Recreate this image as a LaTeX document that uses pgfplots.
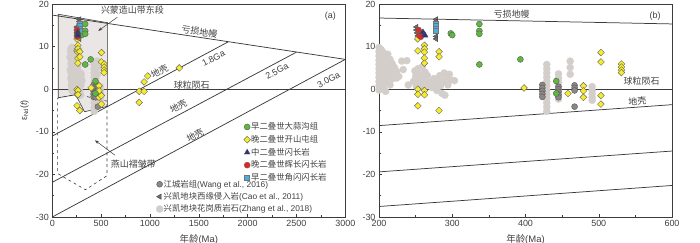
\documentclass[border=0pt]{standalone}
\usepackage{pgfplots}
\pgfplotsset{compat=1.18}
\usepackage{pgfplotstable}
\usepackage{fontspec}
\setmainfont{Liberation Sans}
\newfontfamily\cjk{Noto Sans CJK SC}
\usetikzlibrary{arrows.meta}

\definecolor{cgreen}{HTML}{5DB83F}
\definecolor{cyellow}{HTML}{F7EC2A}
\definecolor{cnavy}{HTML}{2B2F8C}
\definecolor{cred}{HTML}{E52421}
\definecolor{cblue}{HTML}{44B0E3}
\definecolor{cwang}{HTML}{8C8684}
\definecolor{ccao}{HTML}{6E6E6E}
\definecolor{czhang}{HTML}{D4CECB}
\definecolor{cpoly}{HTML}{EAE6E5}
\definecolor{cline}{HTML}{3C3C3C}
\definecolor{ctext}{HTML}{404040}

\pgfplotstableread{
x y
298 13.1
300 12.7
337 15.3
337 13.7
337 13.0
337 5.8
393 7.0
442 1.9
442 -1.0
}\tgreen

\pgfplotstableread{
x y
253 11.8
253 9.0
253 0.0
253 -1.2
253 -3.9
262 10.3
262 9.5
262 8.7
262 7.3
262 6.1
262 -0.3
262 -1.3
282 8.8
282 7.6
282 -5.0
398 0.3
458 -1.0
479 0.8
479 -0.4
479 -1.9
503 8.6
503 6.4
503 -1.5
503 -3.5
531 5.9
531 5.2
531 4.5
531 3.9
890 -0.5
940 -0.5
890 -3.1
940 1.7
978 3.1
1300 5.0
}\tyellow

\pgfplotstableread{
x y
260 13.4
262 12.9
263 12.6
}\tnavy

\pgfplotstableread{
x y
254 13.9
256 13.3
255 12.6
258 12.9
257 12.3
}\tred

\pgfplotstableread{
x y
277 15.3
277 14.8
277 14.3
277 13.8
}\tblue

\pgfplotstableread{
x y
423 1.0
423 0.3
423 -0.4
423 -1.1
423 -1.8
445 0.6
445 0.0
445 -0.6
445 -1.3
445 -1.9
467 0.9
467 0.3
467 -0.3
467 -4.1
}\twang

\pgfplotstableread{
x y
251 14.6
251 13.9
252 13.2
253 12.5
278 16.4
278 15.9
278 15.3
278 12.4
278 11.8
}\tcao

\pgfplotstableread{
x y
182 7.5
184 4.5
187 8.8
189 2.5
191 6.0
193 9.5
194 3.8
196 1.0
197 7.0
198 5.2
200 9.8
200 8.8
200 7.8
200 6.8
200 5.8
200 4.8
200 3.8
200 2.8
200 1.8
200 0.8
200 -0.2
203 9.3
203 7.2
203 5.2
203 3.2
203 1.2
206 8.6
206 6.3
206 4.2
206 2.2
206 0.3
209 7.6
209 5.5
209 3.5
209 1.5
209 -0.5
212 8.2
212 6.5
212 4.6
212 2.6
215 7.0
215 5.4
215 3.5
215 1.0
218 6.0
218 4.2
218 2.4
221 5.1
221 3.3
224 4.2
224 2.6
227 3.0
231 6.6
238 6.7
233 4.6
240 1.0
247 1.8
249 4.3
250 3.0
251 0.7
253 4.8
254 2.2
256 3.6
257 1.2
259 5.2
260 2.7
261 0.4
263 4.0
264 1.8
266 3.2
267 0.9
270 1.7
272 0.4
275 2.5
277 1.2
279 -0.3
281 2.0
283 3.2
284 0.8
286 -1.0
288 1.8
289 3.8
290 -1.4
292 2.6
294 1.0
296 3.5
298 2.2
303 2.0
429 5.8
429 4.8
429 3.8
429 2.8
429 1.8
429 0.8
429 -0.2
429 -1.2
429 -2.2
429 -3.2
429 -4.2
429 -5.2
445 3.6
445 2.6
445 1.6
445 0.6
445 -0.4
445 -1.4
445 -2.3
461 6.6
461 5.1
461 3.5
491 0.6
491 -0.3
491 -1.1
491 -1.9
491 -2.6
}\tzhang

\tikzset{
  sgreen/.style={only marks, mark=*, mark size=3bp, mark options={fill=cgreen, draw=black!65, line width=0.4pt}},
  syellow/.style={only marks, mark=square*, mark size=2.4bp, mark options={rotate=45, fill=cyellow, draw=black!60, line width=0.4pt}},
  snavy/.style={only marks, mark=triangle*, mark size=3.2bp, mark options={fill=cnavy, draw=black!70, line width=0.4pt}},
  sred/.style={only marks, mark=*, mark size=3bp, mark options={fill=cred, draw=black!60, line width=0.4pt}},
  sblue/.style={only marks, mark=square*, mark size=2.5bp, mark options={fill=cblue, draw=black!55, line width=0.4pt}},
  swang/.style={only marks, mark=*, mark size=3bp, mark options={fill=cwang, draw=black!65, line width=0.4pt}},
  scao/.style={only marks, mark=triangle*, mark size=3bp, mark options={rotate=90, fill=ccao, draw=black!75, line width=0.4pt}},
  szhang/.style={only marks, mark=*, mark size=3.6bp, mark options={fill=czhang, draw=czhang, line width=0.2pt}},
  refline/.style={draw=cline, line width=0.75pt, sharp plot, mark=none},
  lab/.style={text=ctext, font=\fontsize{9}{10}\selectfont\cjk, inner sep=0pt},
}

\pgfplotsset{
  panel/.style={
    scale only axis, width=293bp, height=213bp,
    anchor=south west,
    ymin=-30, ymax=20, ytick={-30,-20,...,20}, minor y tick num=1,
    tick pos=left, tick align=inside,
    major tick length=3bp, minor tick length=2bp,
    ticklabel style={font=\fontsize{9}{10}\selectfont, text=ctext},
    /pgf/number format/assume math mode=true,
    /pgf/number format/1000 sep={},
    axis line style={cline, line width=0.7pt},
    every tick/.append style={cline, line width=0.5pt},
    xlabel style={font=\fontsize{9.5}{10}\selectfont, text=ctext, at={(axis description cs:0.5,0)}, anchor=center, yshift=-22bp},
    legend cell align=left,
    legend image code/.code={\path[draw=none, fill=none] (-3.5bp,-3.5bp) rectangle (3.5bp,3.5bp); \draw[##1] plot coordinates {(0bp,0bp)};},
  },
}

\begin{document}
\begin{tikzpicture}
\useasboundingbox (0,0) rectangle (700bp,243bp);

% ---------------- panel (a) ----------------
\begin{axis}[panel, at={(52.3bp,26bp)},
  xmin=0, xmax=3000, xtick={0,500,...,3000}, minor x tick num=1,
  xlabel={{\cjk 年龄}(Ma)},
  ylabel={ε\textsubscript{Nd}(\textit{t})},
  ylabel style={font=\fontsize{9}{10}\selectfont, text=ctext, at={(axis description cs:-0.095,0.5)}, anchor=center},
  legend style={at={(0.6532,0.4451)}, anchor=north west, draw=none, fill=none, inner sep=0pt, outer sep=0pt, row sep=3.2bp, font=\fontsize{8.4}{9}\selectfont\cjk, text=ctext, nodes={inner sep=0.5bp}},
]
\addplot[fill=cpoly, draw=cline, line width=0.6pt, forget plot] coordinates {(61,17.6)(567,15.6)(567,-4)(330,-5.3)(240,-1.3)(61,-2)(61,17.6)};
\addplot[dashed, draw=cline, line width=0.6pt, forget plot] coordinates {(55,-2.1)(250,-1.2)(560,-2.8)(560,-20.3)(340,-23.6)(55,-19.8)(55,-2.1)};
\addplot[szhang, forget plot] table {\tzhang};
\addplot[refline, forget plot] coordinates {(0,17.4)(3000,7.0)};
\addplot[refline, forget plot] coordinates {(0,0)(3000,0)};
\addplot[refline, forget plot] coordinates {(0,-11)(1800,11.1)};
\addplot[refline, forget plot] coordinates {(0,-21.85)(2500,8.7)};
\addplot[refline, forget plot] coordinates {(0,-30)(3000,7.0)};
\addplot[swang, forget plot] table {\twang};
\addplot[scao, forget plot] table {\tcao};
\addplot[syellow, forget plot] table {\tyellow};
\addplot[sgreen, forget plot] table {\tgreen};
\addplot[sblue, forget plot] table {\tblue};
\addplot[sred, forget plot] table {\tred};
\addplot[snavy, forget plot] table {\tnavy};

\addlegendimage{sgreen}\addlegendentry{早二叠世大蒜沟组}
\addlegendimage{syellow}\addlegendentry{晚二叠世开山屯组}
\addlegendimage{snavy}\addlegendentry{中二叠世闪长岩}
\addlegendimage{sred}\addlegendentry{晚二叠世辉长闪长岩}
\addlegendimage{sblue}\addlegendentry{早二叠世角闪闪长岩}

\node[lab] at (axis cs:820,18.6) {兴蒙造山带东段};
\draw[cline, line width=0.5pt, -{Stealth[length=4bp,width=3bp]}] (axis cs:666,16.9) -- (axis cs:471,13.7);
\node[lab] at (axis cs:830,-17.5) {燕山褶皱带};
\draw[cline, line width=0.5pt, -{Stealth[length=4bp,width=3bp]}] (axis cs:642,-15.5) -- (axis cs:437,-12.0);
\node[lab, font=\fontsize{9}{10}\selectfont] at (axis cs:2846,17.2) {(a)};
\node[lab, rotate=-8.6] at (axis cs:1507,13.5) {亏损地幔};
\node[lab] at (axis cs:1428,1.0) {球粒陨石};
\node[lab, rotate=28, font=\fontsize{9}{10}\selectfont] at (axis cs:1650,7.2) {1.8Ga};
\node[lab, rotate=28, font=\fontsize{9}{10}\selectfont] at (axis cs:2300,4.2) {2.5Ga};
\node[lab, rotate=28, font=\fontsize{9}{10}\selectfont] at (axis cs:2829,2.2) {3.0Ga};
\node[lab, rotate=28] at (axis cs:1097,4.25) {地壳};
\node[lab, rotate=28] at (axis cs:1291,-4.1) {地壳};
\node[lab, rotate=28] at (axis cs:1462,-10.8) {地壳};
\end{axis}

% second legend group for panel (a)
\begin{axis}[panel, at={(52.3bp,26bp)}, xmin=0, xmax=3000, hide axis,
  legend style={at={(0.354,0.176)}, anchor=north west, draw=none, fill=none, inner sep=0pt, outer sep=0pt, row sep=2.85bp, font=\fontsize{8.4}{9}\selectfont, text=ctext, nodes={inner sep=0.5bp}},
]
\addlegendimage{swang}\addlegendentry{{\cjk 江城岩组}(Wang et al., 2016)}
\addlegendimage{scao}\addlegendentry{{\cjk 兴凯地块西缘侵入岩}(Cao et al., 2011)}
\addlegendimage{szhang}\addlegendentry{{\cjk 兴凯地块花岗质岩石}(Zhang et al., 2018)}
\end{axis}

% ---------------- panel (b) ----------------
\begin{axis}[panel, at={(379bp,26bp)},
  xmin=200, xmax=600, xtick={200,300,...,600}, minor x tick num=1,
  xlabel={{\cjk 年龄}(Ma)},
]
\addplot[szhang, forget plot] table {\tzhang};
\addplot[refline, forget plot] coordinates {(0,17.4)(3000,7.0)};
\addplot[refline, forget plot] coordinates {(0,0)(3000,0)};
\addplot[refline, forget plot] coordinates {(0,-11)(1800,11.1)};
\addplot[refline, forget plot] coordinates {(0,-21.85)(2500,8.7)};
\addplot[refline, forget plot] coordinates {(0,-30)(3000,7.0)};
\addplot[swang, forget plot] table {\twang};
\addplot[scao, forget plot] table {\tcao};
\addplot[syellow, forget plot] table {\tyellow};
\addplot[sgreen, forget plot] table {\tgreen};
\addplot[sblue, forget plot] table {\tblue};
\addplot[sred, forget plot] table {\tred};
\addplot[snavy, forget plot] table {\tnavy};

\node[lab, font=\fontsize{9}{10}\selectfont] at (axis cs:577,17.2) {(b)};
\node[lab, rotate=-1.2] at (axis cs:381,17.65) {亏损地幔};
\node[lab] at (axis cs:558.6,1.8) {球粒陨石};
\node[lab, rotate=4.1] at (axis cs:552.7,-2.9) {地壳};
\end{axis}
\end{tikzpicture}
\end{document}
